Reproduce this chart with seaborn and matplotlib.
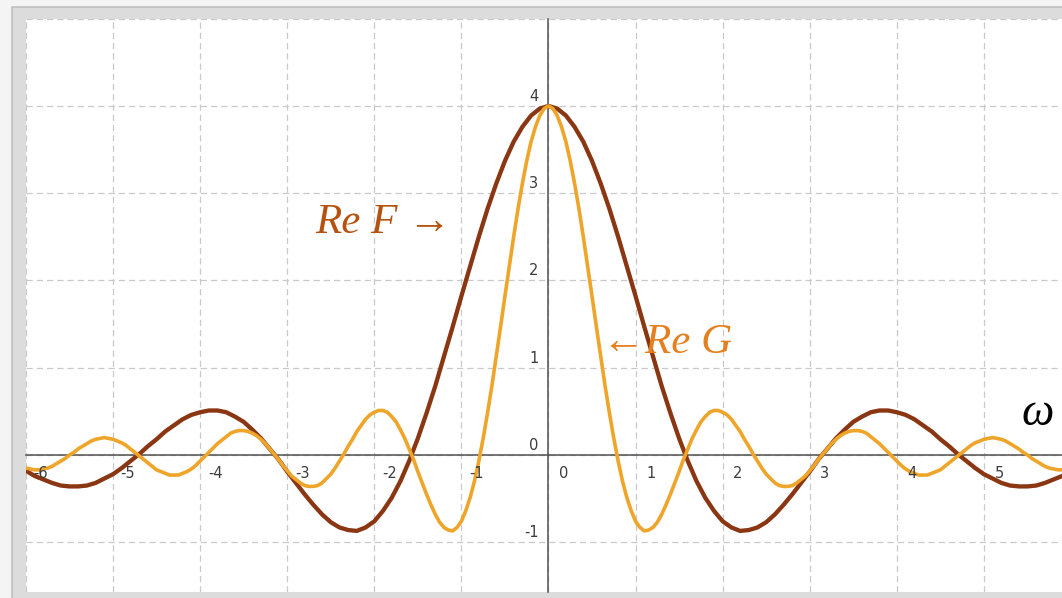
import matplotlib
matplotlib.use("Agg")
import matplotlib.pyplot as plt
from matplotlib.patches import Rectangle
import pandas as pd
import seaborn as sns

# Frequency samples for Re F (step 0.1)
omega_f = [
    -6.0, -5.9, -5.8, -5.7, -5.6, -5.5, -5.4, -5.3, -5.2, -5.1,
    -5.0, -4.9, -4.8, -4.7, -4.6, -4.5, -4.4, -4.3, -4.2, -4.1,
    -4.0, -3.9, -3.8, -3.7, -3.6, -3.5, -3.4, -3.3, -3.2, -3.1,
    -3.0, -2.9, -2.8, -2.7, -2.6, -2.5, -2.4, -2.3, -2.2, -2.1,
    -2.0, -1.9, -1.8, -1.7, -1.6, -1.5, -1.4, -1.3, -1.2, -1.1,
    -1.0, -0.9, -0.8, -0.7, -0.6, -0.5, -0.4, -0.3, -0.2, -0.1,
    0.0,
    0.1, 0.2, 0.3, 0.4, 0.5, 0.6, 0.7, 0.8, 0.9, 1.0,
    1.1, 1.2, 1.3, 1.4, 1.5, 1.6, 1.7, 1.8, 1.9, 2.0,
    2.1, 2.2, 2.3, 2.4, 2.5, 2.6, 2.7, 2.8, 2.9, 3.0,
    3.1, 3.2, 3.3, 3.4, 3.5, 3.6, 3.7, 3.8, 3.9, 4.0,
    4.1, 4.2, 4.3, 4.4, 4.5, 4.6, 4.7, 4.8, 4.9, 5.0,
    5.1, 5.2, 5.3, 5.4, 5.5, 5.6, 5.7, 5.8, 5.9, 6.0,
]

# Real part of F (wide central lobe)
re_f = [
    -0.18, -0.24, -0.28, -0.32, -0.35, -0.36, -0.36, -0.35, -0.32, -0.27,
    -0.22, -0.15, -0.07, 0.01, 0.10, 0.18, 0.27, 0.34, 0.41, 0.46,
    0.49, 0.51, 0.51, 0.49, 0.44, 0.38, 0.29, 0.19, 0.07, -0.05,
    -0.19, -0.32, -0.45, -0.57, -0.68, -0.77, -0.83, -0.86, -0.87, -0.83,
    -0.76, -0.64, -0.49, -0.30, -0.07, 0.19, 0.48, 0.79, 1.13, 1.47,
    1.82, 2.16, 2.50, 2.82, 3.11, 3.37, 3.59, 3.76, 3.89, 3.97,
    4.00,
    3.97, 3.89, 3.76, 3.59, 3.37, 3.11, 2.82, 2.50, 2.16, 1.82,
    1.47, 1.13, 0.79, 0.48, 0.19, -0.07, -0.30, -0.49, -0.64, -0.76,
    -0.83, -0.87, -0.86, -0.83, -0.77, -0.68, -0.57, -0.45, -0.32, -0.19,
    -0.05, 0.07, 0.19, 0.29, 0.38, 0.44, 0.49, 0.51, 0.51, 0.49,
    0.46, 0.41, 0.34, 0.27, 0.18, 0.10, 0.01, -0.07, -0.15, -0.22,
    -0.27, -0.32, -0.35, -0.36, -0.36, -0.35, -0.32, -0.28, -0.24, -0.18,
]

# Frequency samples for Re G (step 0.05, it oscillates twice as fast)
omega_g = [
    -6.00, -5.95, -5.90, -5.85, -5.80, -5.75, -5.70, -5.65, -5.60, -5.55,
    -5.50, -5.45, -5.40, -5.35, -5.30, -5.25, -5.20, -5.15, -5.10, -5.05,
    -5.00, -4.95, -4.90, -4.85, -4.80, -4.75, -4.70, -4.65, -4.60, -4.55,
    -4.50, -4.45, -4.40, -4.35, -4.30, -4.25, -4.20, -4.15, -4.10, -4.05,
    -4.00, -3.95, -3.90, -3.85, -3.80, -3.75, -3.70, -3.65, -3.60, -3.55,
    -3.50, -3.45, -3.40, -3.35, -3.30, -3.25, -3.20, -3.15, -3.10, -3.05,
    -3.00, -2.95, -2.90, -2.85, -2.80, -2.75, -2.70, -2.65, -2.60, -2.55,
    -2.50, -2.45, -2.40, -2.35, -2.30, -2.25, -2.20, -2.15, -2.10, -2.05,
    -2.00, -1.95, -1.90, -1.85, -1.80, -1.75, -1.70, -1.65, -1.60, -1.55,
    -1.50, -1.45, -1.40, -1.35, -1.30, -1.25, -1.20, -1.15, -1.10, -1.05,
    -1.00, -0.95, -0.90, -0.85, -0.80, -0.75, -0.70, -0.65, -0.60, -0.55,
    -0.50, -0.45, -0.40, -0.35, -0.30, -0.25, -0.20, -0.15, -0.10, -0.05,
    0.00,
    0.05, 0.10, 0.15, 0.20, 0.25, 0.30, 0.35, 0.40, 0.45, 0.50,
    0.55, 0.60, 0.65, 0.70, 0.75, 0.80, 0.85, 0.90, 0.95, 1.00,
    1.05, 1.10, 1.15, 1.20, 1.25, 1.30, 1.35, 1.40, 1.45, 1.50,
    1.55, 1.60, 1.65, 1.70, 1.75, 1.80, 1.85, 1.90, 1.95, 2.00,
    2.05, 2.10, 2.15, 2.20, 2.25, 2.30, 2.35, 2.40, 2.45, 2.50,
    2.55, 2.60, 2.65, 2.70, 2.75, 2.80, 2.85, 2.90, 2.95, 3.00,
    3.05, 3.10, 3.15, 3.20, 3.25, 3.30, 3.35, 3.40, 3.45, 3.50,
    3.55, 3.60, 3.65, 3.70, 3.75, 3.80, 3.85, 3.90, 3.95, 4.00,
    4.05, 4.10, 4.15, 4.20, 4.25, 4.30, 4.35, 4.40, 4.45, 4.50,
    4.55, 4.60, 4.65, 4.70, 4.75, 4.80, 4.85, 4.90, 4.95, 5.00,
    5.05, 5.10, 5.15, 5.20, 5.25, 5.30, 5.35, 5.40, 5.45, 5.50,
    5.55, 5.60, 5.65, 5.70, 5.75, 5.80, 5.85, 5.90, 5.95, 6.00,
]

# Real part of G (narrow central lobe)
re_g = [
    -0.15, -0.16, -0.17, -0.17, -0.16, -0.15, -0.13, -0.10, -0.07, -0.04,
    0.00, 0.03, 0.07, 0.10, 0.13, 0.16, 0.18, 0.19, 0.20, 0.19,
    0.18, 0.16, 0.14, 0.11, 0.07, 0.03, -0.01, -0.05, -0.09, -0.13,
    -0.17, -0.19, -0.21, -0.23, -0.23, -0.23, -0.21, -0.19, -0.16, -0.12,
    -0.07, -0.02, 0.03, 0.08, 0.13, 0.17, 0.21, 0.25, 0.27, 0.28,
    0.28, 0.27, 0.25, 0.22, 0.18, 0.13, 0.07, 0.01, -0.05, -0.12,
    -0.18, -0.24, -0.28, -0.32, -0.35, -0.36, -0.36, -0.35, -0.32, -0.27,
    -0.22, -0.15, -0.07, 0.01, 0.10, 0.18, 0.27, 0.34, 0.41, 0.46,
    0.49, 0.51, 0.51, 0.49, 0.44, 0.38, 0.29, 0.19, 0.07, -0.05,
    -0.19, -0.32, -0.45, -0.57, -0.68, -0.77, -0.83, -0.86, -0.87, -0.83,
    -0.76, -0.64, -0.49, -0.30, -0.07, 0.19, 0.48, 0.79, 1.13, 1.47,
    1.82, 2.16, 2.50, 2.82, 3.11, 3.37, 3.59, 3.76, 3.89, 3.97,
    4.00,
    3.97, 3.89, 3.76, 3.59, 3.37, 3.11, 2.82, 2.50, 2.16, 1.82,
    1.47, 1.13, 0.79, 0.48, 0.19, -0.07, -0.30, -0.49, -0.64, -0.76,
    -0.83, -0.87, -0.86, -0.83, -0.77, -0.68, -0.57, -0.45, -0.32, -0.19,
    -0.05, 0.07, 0.19, 0.29, 0.38, 0.44, 0.49, 0.51, 0.51, 0.49,
    0.46, 0.41, 0.34, 0.27, 0.18, 0.10, 0.01, -0.07, -0.15, -0.22,
    -0.27, -0.32, -0.35, -0.36, -0.36, -0.35, -0.32, -0.28, -0.24, -0.18,
    -0.12, -0.05, 0.01, 0.07, 0.13, 0.18, 0.22, 0.25, 0.27, 0.28,
    0.28, 0.27, 0.25, 0.21, 0.17, 0.13, 0.08, 0.03, -0.02, -0.07,
    -0.12, -0.16, -0.19, -0.21, -0.23, -0.23, -0.23, -0.21, -0.19, -0.17,
    -0.13, -0.09, -0.05, -0.01, 0.03, 0.07, 0.11, 0.14, 0.16, 0.18,
    0.19, 0.20, 0.19, 0.18, 0.16, 0.13, 0.10, 0.07, 0.03, 0.00,
    -0.04, -0.07, -0.10, -0.13, -0.15, -0.16, -0.17, -0.17, -0.16, -0.15,
]

x_ticks = [-6, -5, -4, -3, -2, -1, 0, 1, 2, 3, 4, 5]
x_tick_labels = ["-6", "-5", "-4", "-3", "-2", "-1", "0", "1", "2", "3", "4", "5"]
y_ticks = [-1, 0, 1, 2, 3, 4, 5]
y_tick_labels = ["-1", "0", "1", "2", "3", "4"]

F_COLOR = "#8a3612"
G_COLOR = "#eea52a"
F_TEXT = "#b5520f"
G_TEXT = "#e67f1e"
AXIS_COLOR = "#4f4f4f"

df_f = pd.DataFrame({"omega": omega_f, "value": re_f})
df_g = pd.DataFrame({"omega": omega_g, "value": re_g})

sns.set_style("white")
plt.rcParams["font.family"] = ["DejaVu Sans"]
plt.rcParams["lines.solid_joinstyle"] = "round"

W, H = 1062, 598
fig = plt.figure(figsize=(W / 100, H / 100), dpi=100)
fig.patch.set_facecolor("#f3f4f3")

# Panel frame behind the plotting area
frame = Rectangle((11.5 / W, -0.05), 1.2, (H - 6.5) / H + 0.05,
                  transform=fig.transFigure, facecolor="#dcdcdc",
                  edgecolor="#bcbcbc", linewidth=1.1, zorder=-10)
fig.patches.append(frame)

ax = fig.add_axes([25.9 / W, 6 / H, (W - 25.9) / W, (592 - 18.7) / H])
ax.set_zorder(1)
ax.set_facecolor("white")
ax.set_xlim(-6.0, 5.896)
ax.set_ylim(-1.57, 5.0)

sns.lineplot(data=df_f, x="omega", y="value", color=F_COLOR, linewidth=3.1,
             ax=ax, zorder=3, sort=False)
sns.lineplot(data=df_g, x="omega", y="value", color=G_COLOR, linewidth=2.6,
             ax=ax, zorder=4, sort=False)

# Axes crossing at the origin
for side in ("top", "right"):
    ax.spines[side].set_visible(False)
ax.spines["left"].set_position(("data", 0))
ax.spines["bottom"].set_position(("data", 0))
for side in ("left", "bottom"):
    ax.spines[side].set_color(AXIS_COLOR)
    ax.spines[side].set_linewidth(1.1)
    ax.spines[side].set_zorder(2.5)

ax.set_xticks(x_ticks)
ax.set_yticks(y_ticks)
ax.tick_params(axis="both", direction="out", length=3.6, width=1.0,
               color=AXIS_COLOR, labelbottom=False, labelleft=False)
ax.grid(True, color="#c9c9c9", linestyle=(0, (5, 3.2)), linewidth=0.9, zorder=0)
ax.set_xlabel("")
ax.set_ylabel("")

label_font = dict(family=["Liberation Sans Narrow", "DejaVu Sans"], fontsize=10.5,
                  color="#3c3c3c")
for v, lbl in zip(x_ticks, x_tick_labels):
    ax.annotate(lbl, xy=(v, 0), xytext=(10.8, -16.6), textcoords="offset points",
                ha="center", va="baseline", zorder=5, **label_font)
for v, lbl in zip(y_ticks, y_tick_labels):
    ax.annotate(lbl, xy=(0, v), xytext=(-7.2, 3.6), textcoords="offset points",
                ha="right", va="baseline", zorder=5, **label_font)

serif = ["Liberation Serif", "DejaVu Serif"]
ax.text(-2.68, 2.54, "Re F \u2192", family=serif, style="italic", fontsize=31,
        color=F_TEXT, ha="left", va="baseline", zorder=6)
ax.text(0.62, 1.168, "\u2190Re G", family=serif, style="italic", fontsize=31,
        color=G_TEXT, ha="left", va="baseline", zorder=6)
ax.text(5.436, 0.344, "\u03c9", family=serif, style="italic", fontsize=33,
        color="black", ha="left", va="baseline", zorder=6)

fig.savefig("out.png", dpi=100, facecolor=fig.get_facecolor())
